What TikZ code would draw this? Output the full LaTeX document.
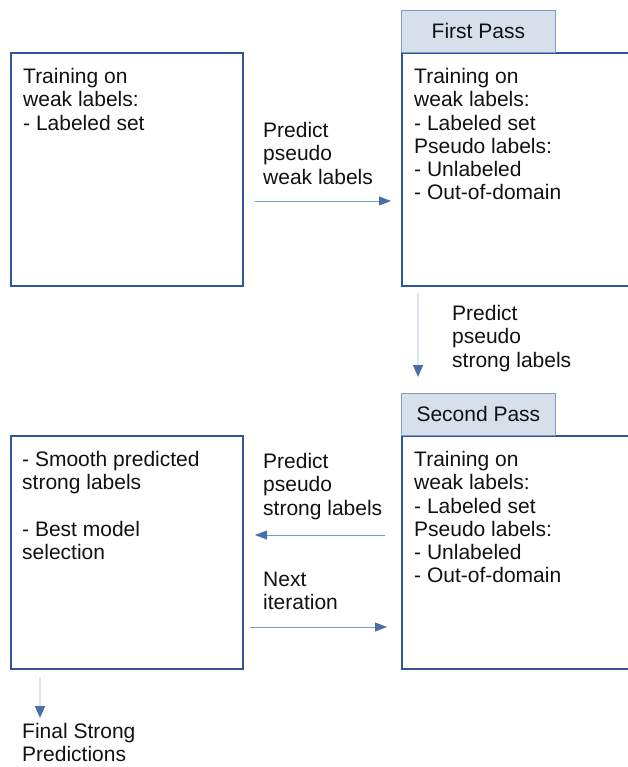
\documentclass[tikz,border=0pt]{standalone}
\usepackage{fontspec}
\setmainfont{Liberation Sans}
\usetikzlibrary{arrows.meta}
\usetikzlibrary{positioning}
\definecolor{boxblue}{HTML}{2F5597}
\definecolor{tabfill}{HTML}{D6DFEA}
\definecolor{tabline}{HTML}{7F9CC4}
\definecolor{arrline}{HTML}{7F9CC4}
\definecolor{arrpale}{HTML}{DCE4EE}
\definecolor{arrhead}{HTML}{4A6EA8}
\definecolor{inktext}{HTML}{111111}

\tikzset{
    stagebox/.style={draw=boxblue, line width=2pt, anchor=north west,
        minimum width=#1, minimum height=233pt, inner sep=0pt},
    passtab/.style={draw=tabline, fill=tabfill, line width=0.8pt, anchor=north west,
        minimum width=154pt, minimum height=42pt, inner sep=0pt},
    txt/.style={anchor=north west, inner sep=0pt, align=left, text=inktext,
        font=\fontsize{21}{23.3}\selectfont},
    flow/.style={draw=arrline, line width=0.8pt,
        -{Triangle[length=12pt,width=9pt,color=arrhead]}},
    paleflow/.style={draw=arrpale, line width=1.6pt,
        -{Triangle[length=12pt,width=10pt,color=arrhead]}}
}

\begin{document}
\begin{tikzpicture}[x=1pt,y=-1pt]
    \useasboundingbox (0,0) rectangle (628,767);

    % Boxes
    \node[stagebox=232pt] (initial) at (10,52) {};
    \node[stagebox=250pt] (first) at (401,52) {};
    \node[stagebox=250pt] (second) at (401,435) {};
    \node[stagebox=232pt] (post) at (10,435) {};

    % Pass tabs
    \node[passtab] (tabA) at (401,10) {};
    \node[passtab] (tabB) at (401,393) {};
    \node[txt, anchor=center] at (tabA.center) {First Pass};
    \node[txt, anchor=center] at (tabB.center) {Second Pass};

    % Box contents
    \node[txt] (initialtxt) at (23,68) {Training on\\weak labels:\\- Labeled set};
    \node[txt] (firsttxt) at (414,68) {Training on\\weak labels:\\- Labeled set\\Pseudo labels:\\- Unlabeled\\- Out-of-domain};
    \node[txt] (secondtxt) at (414,451) {Training on\\weak labels:\\- Labeled set\\Pseudo labels:\\- Unlabeled\\- Out-of-domain};
    \node[txt] (posttxt) at (22,451) {- Smooth predicted\\strong labels\\[23.3pt]- Best model\\selection};

    % Arrow labels
    \node[txt] (weaklbl) at (263,122) {Predict\\pseudo\\weak labels};
    \node[txt] (stronglbl) at (452,305) {Predict\\pseudo\\strong labels};
    \node[txt] (backlbl) at (263,453) {Predict\\pseudo\\strong labels};
    \node[txt] (nextlbl) at (263,572) {Next\\iteration};
    \node[txt] (finallbl) at (22,723) {Final Strong\\Predictions};

    % Arrow ends
    \coordinate (wa) at (255,201);
    \coordinate (wb) at (391,201);
    \coordinate (sa) at (418,293);
    \coordinate (sb) at (418,377);
    \coordinate (ba) at (385,535);
    \coordinate (bb) at (255,535);
    \coordinate (na) at (250,627);
    \coordinate (nb) at (387,627);
    \coordinate (fa) at (40,677);
    \coordinate (fb) at (40,718);

    % Connection
    \draw[flow] (wa) -- (wb);
    \draw[paleflow] (sa) -- (sb);
    \draw[flow] (ba) -- (bb);
    \draw[flow] (na) -- (nb);
    \draw[paleflow] (fa) -- (fb);
\end{tikzpicture}
\end{document}
